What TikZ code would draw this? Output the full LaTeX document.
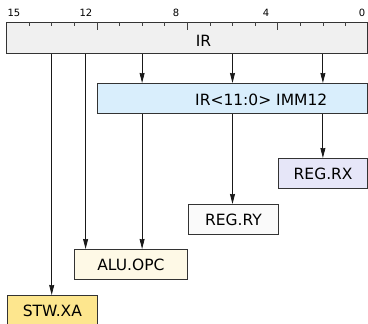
\documentclass[tikz,border=0pt]{standalone}
\usepackage{fontspec}
\setmainfont{DejaVu Sans}
\usetikzlibrary{arrows.meta,positioning}
\definecolor{irgray}{HTML}{F0F0F0}
\definecolor{immblue}{HTML}{D9EEFC}
\definecolor{rxlav}{HTML}{E6E6F8}
\definecolor{rywhite}{HTML}{FAFAFA}
\definecolor{alucream}{HTML}{FEF9E6}
\definecolor{stwyellow}{HTML}{FDE68E}
\tikzset{
  reg box/.style={draw=black!80,line width=0.8pt,minimum height=30pt,inner sep=0pt,anchor=north west,font=\fontsize{15.5}{18}\selectfont},
  reg text/.style={inner sep=0pt,font=\fontsize{15.5}{18}\selectfont},
  bit tick/.style={black!75,line width=0.7pt},
  bit label/.style={font=\fontsize{10}{12}\selectfont},
  field arrow/.style={-{Stealth[length=10pt,width=5pt,inset=0.5pt]},black!90,line width=0.8pt},
}
\newcommand{\bitw}{22.6}

\begin{document}
\begin{tikzpicture}[x=1pt,y=-1pt]
  \useasboundingbox (0,0) rectangle (368,324);
  \clip (0,0) rectangle (368,324);
  \node[reg box,fill=irgray,minimum width=361pt,minimum height=31pt] (ir) at (6.5,22) {};
  \node[reg text,anchor=base] (irname) at (203.5,46) {IR};
  \node[reg box,fill=immblue,minimum width=270.5pt] (imm) at (97,83) {};
  \node[reg text,anchor=base west] (immname) at (195,106) {IR<11:0> IMM12};
  \node[reg box,fill=rxlav,minimum width=89.5pt] (rx) at (278,158) {REG.RX};
  \node[reg box,fill=rywhite,minimum width=90pt] (ry) at (188,204) {REG.RY};
  \node[reg box,fill=alucream,minimum width=113pt] (alu) at (74,249) {ALU.OPC};
  \node[reg box,fill=stwyellow,minimum width=90pt] (stw) at (7,295) {STW.XA};
  % bit ruler
  \foreach \k in {1,...,15}{
    \pgfmathsetmacro{\tl}{ifthenelse(mod(\k,4)==0,8,4)}
    \draw[bit tick] (6.5+16*\bitw-\k*\bitw,22) -- ++(0,\tl);
  }
  \foreach \b/\x in {15/14,12/86,8/176,4/266,0/362}
    \node[bit label] (lab\b) at (\x,13) {\b};
  % taps on IR
  \coordinate (t14) at (6.5+2*\bitw,0);
  \coordinate (t12) at (6.5+3.5*\bitw,0);
  \coordinate (t10) at (6.5+6*\bitw,0);
  \coordinate (t6) at (6.5+10*\bitw,0);
  \coordinate (t2) at (6.5+14*\bitw,0);
  \draw[field arrow] (ir.south -| t14) -- (stw.north -| t14);
  \draw[field arrow] (ir.south -| t12) -- (alu.north -| t12);
  \foreach \t in {t10,t6,t2}
    \draw[field arrow] (ir.south -| \t) -- (imm.north -| \t);
  \draw[field arrow] (imm.south -| t10) -- (alu.north -| t10);
  \draw[field arrow] (imm.south -| t6) -- (ry.north -| t6);
  \draw[field arrow] (imm.south -| t2) -- (rx.north -| t2);
\end{tikzpicture}
\end{document}
